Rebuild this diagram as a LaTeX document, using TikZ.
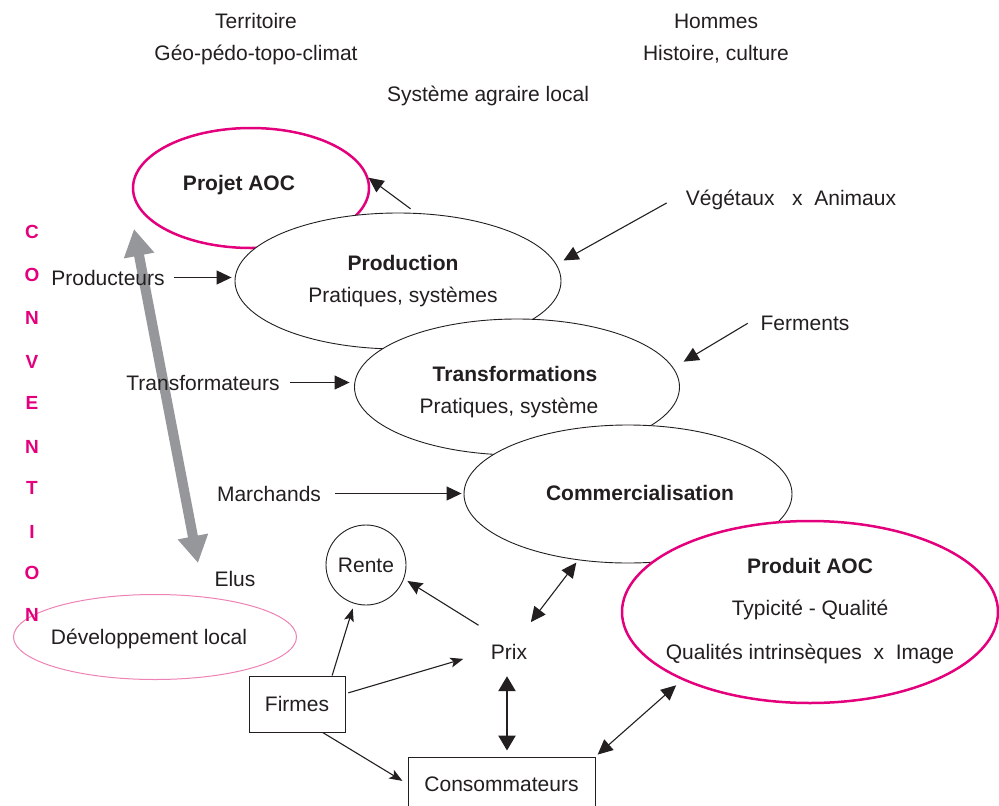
\documentclass[tikz,border=0pt]{standalone}
\usepackage{fontspec}
\setmainfont{Liberation Sans}
\usetikzlibrary{shapes.geometric,arrows.meta}
\definecolor{ink}{HTML}{231F20}
\definecolor{mag}{RGB}{228,0,124}
\definecolor{lpink}{RGB}{238,130,180}
\definecolor{garr}{RGB}{150,151,155}
\newcommand\fsz{\fontsize{21}{25}\selectfont}
\newcommand\csz{\fontsize{19}{23}\selectfont\bfseries}
\begin{document}
\begin{tikzpicture}[x=1pt,y=-1pt,
  lbl/.style={inner sep=2pt, font=\fsz, text=ink, anchor=base},
  blbl/.style={lbl, font=\fsz\bfseries},
  conv/.style={inner sep=0pt, font=\csz, text=mag, anchor=base},
  ell/.style={ellipse, draw=ink, line width=0.9pt, fill=white, inner sep=0pt},
  pell/.style={ellipse, draw=mag, line width=2.5pt, fill=white, inner sep=0pt},
  boxn/.style={rectangle, draw=ink, line width=0.9pt, inner sep=0pt, font=\fsz, text=ink},
  arr/.style={draw=ink, line width=1.1pt, -{Triangle[length=15pt,width=14pt]}},
  darr/.style={draw=ink, line width=1.1pt, {Triangle[length=15pt,width=14pt]}-{Triangle[length=15pt,width=14pt]}},
  vdarr/.style={draw=ink, line width=2.4pt, {Triangle[length=15pt,width=17pt]}-{Triangle[length=15pt,width=17pt]}},
  parr/.style={draw=ink, line width=1.1pt, -{Stealth[length=15pt,width=13pt,inset=2pt]}},
  sarr/.style={draw=ink, line width=1.1pt, -{Stealth[length=13pt,width=10pt,inset=3pt]}},
  garrow/.style={draw=garr, line width=10pt, {Triangle[length=27pt,width=29pt]}-{Triangle[length=27pt,width=29pt]}},
]
\fill[white] (0,0) rectangle (999,806);
\useasboundingbox (0,0) rectangle (999,806);

% ellipses (drawn in stacking order)
\node[ell, draw=lpink, line width=1pt, fill=none, minimum width=283pt, minimum height=85pt] (dev) at (155,637) {};
\node[pell, minimum width=236pt, minimum height=120pt] (projet) at (251,188) {};
\node[ell, minimum width=326pt, minimum height=136pt] (prod) at (398,281) {};
\node[ell, minimum width=325pt, minimum height=136pt] (transf) at (517,387) {};
\node[ell, minimum width=328pt, minimum height=138pt] (comm) at (628,494) {};
\node[pell, minimum width=376pt, minimum height=182pt] (produit) at (810,612) {};
\node[circle, draw=ink, line width=0.9pt, minimum size=80pt, inner sep=0pt, font=\fsz, text=ink] (rente) at (366,565) {Rente};
\node[boxn, minimum width=96pt, minimum height=56pt] (firmes) at (297,704) {Firmes};
\node[boxn, minimum width=187pt, minimum height=54pt] (cons) at (501.5,784) {Consommateurs};

% grey double arrow
\coordinate (gtop) at (134,229);
\coordinate (gbot) at (198,563);
\draw[garrow] (gtop) -- (gbot);

% texts
\node[lbl] (terr) at (256,28) {Territoire};
\node[lbl] (geo) at (256,60) {Géo-pédo-topo-climat};
\node[lbl] (hom) at (716,28) {Hommes};
\node[lbl] (hist) at (716,60) {Histoire, culture};
\node[lbl] (sys) at (488,101) {Système agraire local};
\node[blbl] (projt) at (239,190) {Projet AOC};
\node[blbl] (prodt) at (403,270) {Production};
\node[lbl] (prods) at (403,302) {Pratiques, systèmes};
\node[blbl] (trt) at (515,381) {Transformations};
\node[lbl] (trs) at (509,413) {Pratiques, système};
\node[blbl] (commt) at (640,500) {Commercialisation};
\node[blbl] (pt) at (810,573) {Produit AOC};
\node[lbl] (ps1) at (810,615) {Typicité - Qualité};
\node[lbl] (ps2) at (810,659) {Qualités intrinsèques\ \ x\ \ Image};
\node[lbl] (vege) at (791,205) {Végétaux\ \ \ x\ \ Animaux};
\node[lbl] (ferm) at (805,330) {Ferments};
\node[lbl] (produc) at (108,285) {Producteurs};
\node[lbl] (trf) at (203,390) {Transformateurs};
\node[lbl] (march) at (269,501) {Marchands};
\node[lbl] (elus) at (235,586) {Elus};
\node[lbl] (devt) at (149,644) {Développement local};
\node[lbl] (prix) at (509,659) {Prix};

% CONVENTION
\foreach \l/\yy [count=\i] in {C/232,O/275,N/318,V/362,E/403,N/447,T/488,I/532,O/573,N/615}
  \node[conv] (cv\i) at (32,\yy+6.8) {\l};

% connectors
\draw[arr, shorten <=7pt] (prod.75) -- (projet.5);
\draw[arr, shorten <=19.5pt, shorten >=8pt] ([yshift=6pt]vege.west) -- (prod.6);
\draw[arr, shorten <=12.5pt, shorten >=12pt] ([yshift=6pt]ferm.west) -- (transf.7);
\draw[arr, shorten <=7pt, shorten >=3pt] (produc.east) -- (produc.east -| prod.west);
\draw[arr, shorten <=8pt, shorten >=4.5pt] (trf.east) -- (trf.east -| transf.west);
\draw[arr, shorten <=12pt, shorten >=2pt] (march.east) -- (march.east -| comm.west);
\draw[parr, shorten <=12pt, shorten >=4pt] ([yshift=10pt]prix.north west) -- (rente.-20);
\draw[sarr, shorten >=5pt] (firmes.39) -- (rente.-107);
\draw[sarr, shorten <=3pt, shorten >=26.5pt] (firmes.12) -- (prix.west);
\draw[sarr, shorten >=6pt] (firmes.-48) -- (cons.west);
\draw[darr, shorten <=24.5pt, shorten >=3pt] ([xshift=7pt]prix.north) -- (comm.233);
\draw[vdarr, shorten <=15pt, shorten >=6pt] ([xshift=-2pt]prix.south) -- ([xshift=-2pt]prix.south |- cons.north);
\draw[darr, shorten <=3pt, shorten >=8pt] (cons.north east) -- (produit.208);
\end{tikzpicture}
\end{document}
